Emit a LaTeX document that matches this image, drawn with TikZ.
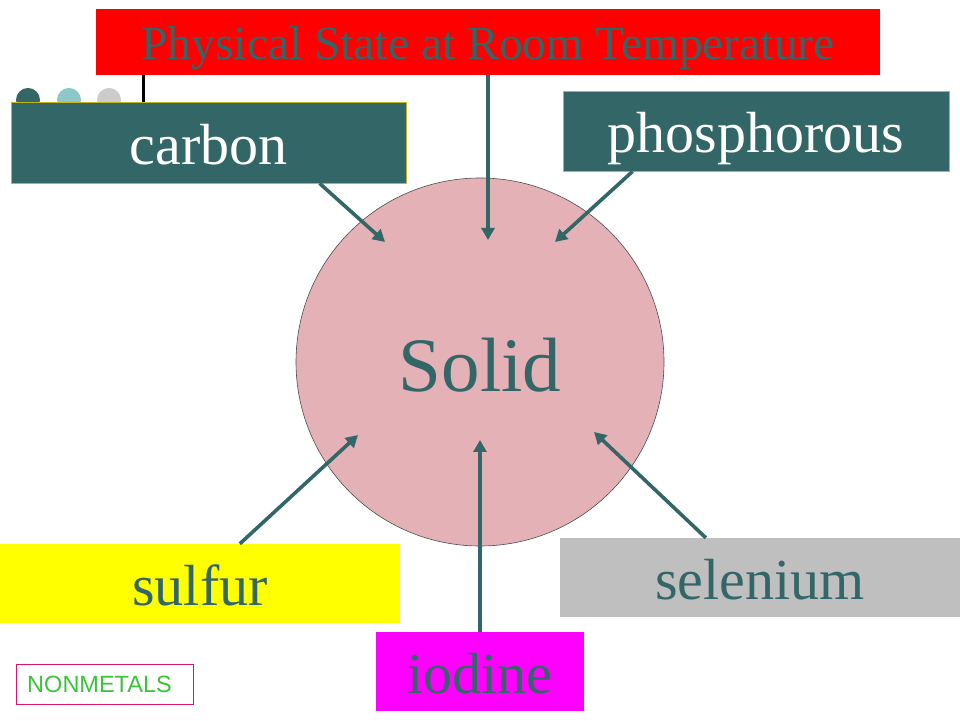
\documentclass[tikz,border=0pt]{standalone}
\usepackage{fontspec}
\setmainfont{Liberation Serif}
\newfontfamily\labelsans{Liberation Sans}
\usepackage{tikz}
\usetikzlibrary{arrows.meta,calc}
\definecolor{slteal}{RGB}{51,102,102}
\definecolor{slteallight}{RGB}{140,200,200}
\definecolor{slgrey}{RGB}{204,204,204}
\definecolor{slgold}{RGB}{200,180,40}
\definecolor{slpink}{RGB}{228,178,182}
\definecolor{slred}{RGB}{255,0,0}
\definecolor{slyellow}{RGB}{255,255,0}
\definecolor{slmagenta}{RGB}{255,0,255}
\definecolor{slselen}{RGB}{191,191,191}
\definecolor{slborder}{RGB}{220,20,110}
\definecolor{slgreen}{RGB}{60,195,60}

\begin{document}
\begin{tikzpicture}[
  x=1pt,y=1pt,
  elembox/.style={inner sep=0pt,text height=49pt,text depth=5.8pt,font=\fontsize{58}{60}\selectfont,align=center},
  darkbox/.style={elembox,draw=slgold,line width=0.8pt,fill=slteal,text=white},
  litebox/.style={elembox,text=slteal},
  dot/.style={circle,minimum size=24pt,inner sep=0pt},
  arr/.style={-{Triangle[length=12pt,width=13pt]},line width=3.6pt,draw=slteal}
]
\useasboundingbox (0,0) rectangle (960,720);
% Title
\node[inner sep=0pt,fill=slred,text=slteal,font=\fontsize{47.5}{50}\selectfont,text height=40pt,text depth=4.75pt,minimum width=784pt,minimum height=66pt] (title) at (488,678) {Physical State at Room Temperature};
% dots
\node[dot,fill=slteal] (dota) at (28,620) {};
\node[dot,fill=slteallight] (dotb) at (69,620) {};
\node[dot,fill=slgrey] (dotc) at (109,620) {};
\draw[line width=3pt] ([xshift=48pt]title.south west) -- ++(0,-28);
% Elements
\node[darkbox,minimum width=395pt,minimum height=81pt] (carbon) at (208.5,577.5) {carbon};
\node[darkbox,minimum width=386pt,minimum height=80pt] (phosphorous) at (756,589) {phosphorous};
\node[circle,draw=black!70,line width=0.6pt,fill=slpink,minimum size=368pt,inner sep=0pt,text height=65.5pt,text depth=5.5pt,text=slteal,font=\fontsize{77}{80}\selectfont] (solid) at (480,358) {Solid};
\node[litebox,fill=slyellow,minimum width=400pt,minimum height=79pt] (sulfur) at (200,136.5) {sulfur};
\node[litebox,fill=slselen,minimum width=400pt,minimum height=79pt] (selenium) at (760,142.5) {selenium};
\node[litebox,fill=slmagenta,minimum width=208pt,minimum height=79pt] (iodine) at (480,48.5) {iodine};
\node[draw=slborder,line width=0.8pt,fill=white,text=slgreen,font=\labelsans\fontsize{23.5}{25}\selectfont,minimum width=177pt,minimum height=40pt,inner sep=0pt,text height=17pt,text depth=0pt] (nonmetals) at (104.5,36) {\hspace*{-10pt}NONMETALS};
% Arrows
\draw[arr] ([xshift=309pt]carbon.south west) -- ($(solid.center)+(-95,120)$);
\draw[arr] (title.south) -- ($(solid.center)+(8,122)$);
\draw[arr] ([xshift=70pt]phosphorous.south west) -- ($(solid.center)+(75,120)$);
\draw[arr] ([xshift=240pt]sulfur.north west) -- ($(solid.center)+(-122,-73)$);
\draw[arr] (iodine.north) -- ($(solid.center)+(0,-78)$);
\draw[arr] ([xshift=146pt]selenium.north west) -- ($(solid.center)+(114,-70)$);
\end{tikzpicture}
\end{document}
